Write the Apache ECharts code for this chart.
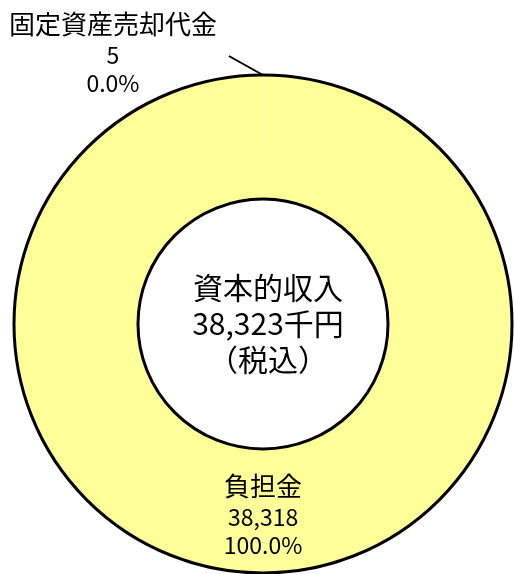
<!DOCTYPE html>
<html><head><meta charset="utf-8">
<script src="https://cdn.jsdelivr.net/npm/echarts@6/dist/echarts.min.js"></script>
<style>html,body{margin:0;padding:0;background:#fff}#c{width:514px;height:574px}</style>
</head><body><div id="c"></div>
<script>
const categories = ['負担金', '固定資産売却代金'];
const values = [38318, 5];
const centerTitle = '資本的収入';
const centerUnit = '千円';
const centerNote = '（税込）';

const FONT = '"Noto Sans CJK JP", "Noto Sans", sans-serif';
const total = values.reduce((a, b) => a + b, 0);
const fmt = n => n.toLocaleString('en-US');

const chart = echarts.init(document.getElementById('c'), null, {renderer: 'canvas'});
const labelRich = {
  n: {fontSize: 26, lineHeight: 34, color: '#000', fontFamily: FONT},
  v: {fontSize: 23, lineHeight: 28, color: '#000', fontFamily: FONT}
};
chart.setOption({
  animation: false,
  title: {
    text: '{a|' + centerTitle + '}\n{a|' + fmt(total) + centerUnit + '}\n{a|' + centerNote + '}',
    left: 263, top: 265, textAlign: 'center',
    textStyle: {rich: {a: {fontSize: 30, lineHeight: 36, color: '#000', fontFamily: FONT, fontWeight: 'normal'}}}
  },
  series: [{
    type: 'pie',
    center: [263, 324],
    radius: [125, 249],
    startAngle: 90,
    clockwise: true,
    percentPrecision: 1,
    avoidLabelOverlap: false,
    itemStyle: {color: '#FFFF99', borderWidth: 0},
    label: {
      position: 'inside',
      formatter: p => '{n|' + p.name + '}\n{v|' + fmt(p.value) + '}\n{v|' + p.percent.toFixed(1) + '%}',
      rich: labelRich
    },
    labelLine: {show: false},
    data: categories.map((c, i) => i === 1 ? {
      name: c, value: values[i],
      label: {position: 'outside', align: 'center'},
      labelLine: {show: true, length: 10, length2: 10, lineStyle: {color: '#000', width: 2}}
    } : {name: c, value: values[i]}),
    labelLayout: function (p) {
      if (p.dataIndex === 1) {
        const start = p.labelLinePoints ? p.labelLinePoints[0] : [262, 76];
        return {x: 113, y: 52, align: 'center', verticalAlign: 'middle',
                labelLinePoints: [start, [start[0] - 34, start[1] - 19]]};
      }
      return {};
    },
    silent: true
  }, {
    type: 'pie',
    center: [263, 324],
    radius: [125, 249],
    silent: true,
    label: {show: false},
    labelLine: {show: false},
    itemStyle: {color: 'rgba(0,0,0,0)', borderColor: '#000', borderWidth: 3},
    data: [{name: 'ring', value: 1}]
  }]
});
</script></body></html>
